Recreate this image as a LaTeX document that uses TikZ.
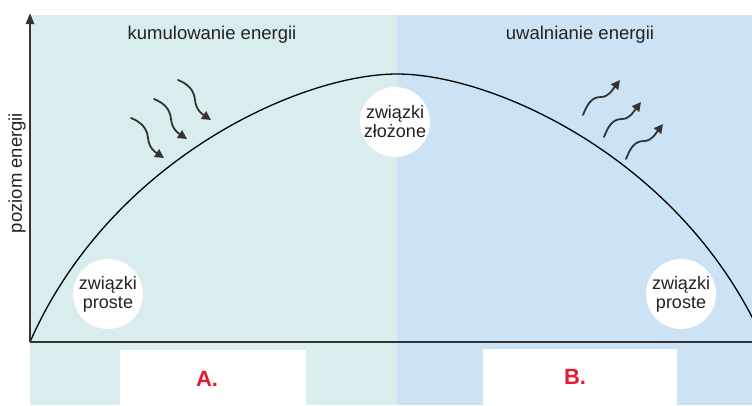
\documentclass[tikz,border=0pt]{standalone}
\usepackage{fontspec}
\setmainfont{Liberation Sans}
\usetikzlibrary{arrows.meta}
\definecolor{bgteal}{HTML}{D9ECEE}
\definecolor{bgblue}{HTML}{CBE3F5}
\definecolor{axisgray}{HTML}{333333}
\definecolor{txtgray}{HTML}{222222}
\definecolor{labred}{HTML}{E8192C}
\tikzset{
  axisline/.style={draw=axisgray, line width=2.2pt},
  curveline/.style={draw=black, line width=1.3pt},
  bubble/.style={circle, fill=white, minimum size=70pt, inner sep=0pt, align=center,
    text=txtgray, font=\fontsize{18}{19}\selectfont},
  titletext/.style={anchor=base, text=txtgray, font=\fontsize{18.5}{22}\selectfont},
  labtext/.style={text=labred, font=\fontsize{22}{26}\selectfont\bfseries},
  wave/.style={draw=axisgray, line width=1.8pt, line cap=round, -{Triangle[length=9pt,width=9pt]}},
  wavein/.pic={\draw[wave] (0,0) .. controls (10,4) and (16,10) .. (17,20) .. controls (18,30) and (24,34) .. (33,40);},
  waveout/.pic={\draw[wave] (0,0) .. controls (4,-10) and (8,-18) .. (18,-18) .. controls (26,-18) and (30,-26) .. (37,-35);}
}
\begin{document}
\begin{tikzpicture}[x=1pt,y=-1pt]
\useasboundingbox (0,0) rectangle (752,405);
% backgrounds
\fill[bgteal] (30,15) rectangle (397,405);
\fill[bgblue] (397,15) rectangle (752,405);
\fill[white] (120,350) rectangle (306,405);
\fill[white] (483,349) rectangle (677,405);
% curve
\begin{scope}
\clip (0,0) rectangle (752,405);
\draw[curveline] (30,342) .. controls (110,160) and (300,74) .. (397,74)
  .. controls (494,74) and (684,160) .. (764,342);
\end{scope}
% axes
\coordinate (O) at (30,342);
\coordinate (ytop) at (30,13);
\coordinate (xend) at (752,342);
\draw[axisline] (O) -- (xend);
\draw[axisline, -{Triangle[length=11pt,width=8pt]}] (O) -- (ytop);
\node[rotate=90, text=txtgray, font=\fontsize{18.5}{22}\selectfont] (ylab) at (17,173) {poziom energii};
% titles
\node[titletext] (t1) at (212,39) {kumulowanie energii};
\node[titletext] (t2) at (580,39) {uwalnianie energii};
% bubbles
\node[bubble] (c1) at (108,294) {związki\\proste};
\node[bubble] (c2) at (395,122) {związki\\złożone};
\node[bubble] (c3) at (681,294) {związki\\proste};
% wave arrows
\pic at (178,80) {wavein};
\pic at (154,99) {wavein};
\pic at (131,118) {wavein};
\pic at (583,115) {waveout};
\pic at (604,137) {waveout};
\pic at (626,159) {waveout};
% labels
\node[labtext] (la) at (207,379) {A.};
\node[labtext] (lb) at (575,377) {B.};
\end{tikzpicture}
\end{document}
